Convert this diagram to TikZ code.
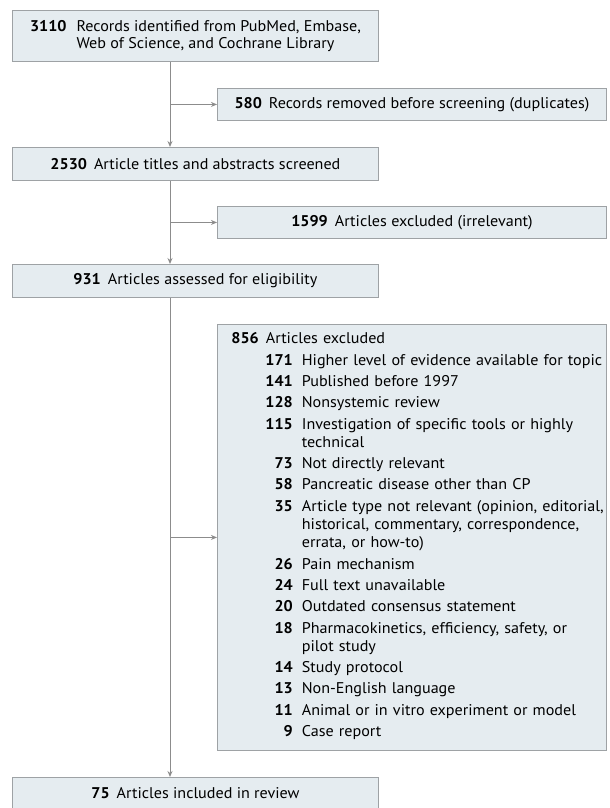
\documentclass[tikz,border=0pt]{standalone}
\usepackage{fontspec}
\setmainfont[FakeStretch=1.04]{PT Sans}
\usetikzlibrary{arrows.meta}
\definecolor{boxfill}{HTML}{E5ECF0}
\definecolor{boxline}{HTML}{9EA2A5}
\definecolor{flowline}{HTML}{8C8C8C}

\begin{document}
\begin{tikzpicture}[x=1pt, y=-1pt,
    box/.style={draw=boxline, fill=boxfill, line width=0.9pt, anchor=north west,
      font=\fontsize{15.5}{18.3}\selectfont, inner sep=0pt},
    wide/.style={box, minimum width=366pt},
    side/.style={box, minimum width=389pt},
    line/.style={draw=flowline, line width=1pt},
    arr/.style={line, -{Stealth[length=6pt, width=5pt]}}]
  \useasboundingbox (0,0) rectangle (610,808);
  \coordinate (trunk) at (170,0);

  \node[wide, minimum height=51pt] (b3110) at (12,10)
    {\begin{tabular}{@{}l@{\hspace{10pt}}l@{}}
      \textbf{3110} & Records identified from PubMed, Embase,\\[-1.5pt]
       & Web of Science, and Cochrane Library
    \end{tabular}};
  \node[side, minimum height=32pt] (b580) at (217,88)
    {\textbf{580}\hspace{7pt}Records removed before screening (duplicates)};
  \node[wide, minimum height=33pt] (b2530) at (12,147)
    {\textbf{2530}\hspace{7pt}Article titles and abstracts screened};
  \node[side, minimum height=32pt] (b1599) at (217,206)
    {\textbf{1599}\hspace{7pt}Articles excluded (irrelevant)};
  \node[wide, minimum height=33pt] (b931) at (12,264)
    {\textbf{931}\hspace{7pt}Articles assessed for eligibility};
  \node[side, minimum height=426pt, text width=361pt, inner xsep=14pt, align=left] (b856) at (217,324)
    {\textbf{856}\hspace{7pt}Articles excluded\\[3pt]
    \hspace*{34pt}\begin{tabular}[t]{@{}r@{\hspace{9pt}}l@{}}
      \textbf{171} & Higher level of evidence available for topic\\[3pt]
      \textbf{141} & Published before 1997\\[3pt]
      \textbf{128} & Nonsystemic review\\[3pt]
      \textbf{115} & Investigation of specific tools or highly\\
       & technical\\[3pt]
      \textbf{73} & Not directly relevant\\[3pt]
      \textbf{58} & Pancreatic disease other than CP\\[3pt]
      \textbf{35} & Article type not relevant (opinion, editorial,\\
       & historical, commentary, correspondence,\\
       & errata, or how-to)\\[3pt]
      \textbf{26} & Pain mechanism\\[3pt]
      \textbf{24} & Full text unavailable\\[3pt]
      \textbf{20} & Outdated consensus statement\\[3pt]
      \textbf{18} & Pharmacokinetics, efficiency, safety, or\\
       & pilot study\\[3pt]
      \textbf{14} & Study protocol\\[3pt]
      \textbf{13} & Non-English language\\[3pt]
      \textbf{11} & Animal or in vitro experiment or model\\[3pt]
      \textbf{9} & Case report
    \end{tabular}};
  \node[wide, minimum height=32pt] (b75) at (12,777)
    {\textbf{75}\hspace{7pt}Articles included in review};

  % main flow with the exclusions branching off
  \draw[arr] (trunk |- b3110.south) -- (trunk |- b2530.north);
  \draw[arr] (trunk |- b580.west) -- (b580.west);
  \draw[arr] (trunk |- b2530.south) -- (trunk |- b931.north);
  \draw[arr] (trunk |- b1599.west) -- (b1599.west);
  \draw[arr] (trunk |- b931.south) -- (trunk |- b75.north);
  \draw[arr] (trunk |- b856.west) -- (b856.west);
\end{tikzpicture}
\end{document}
